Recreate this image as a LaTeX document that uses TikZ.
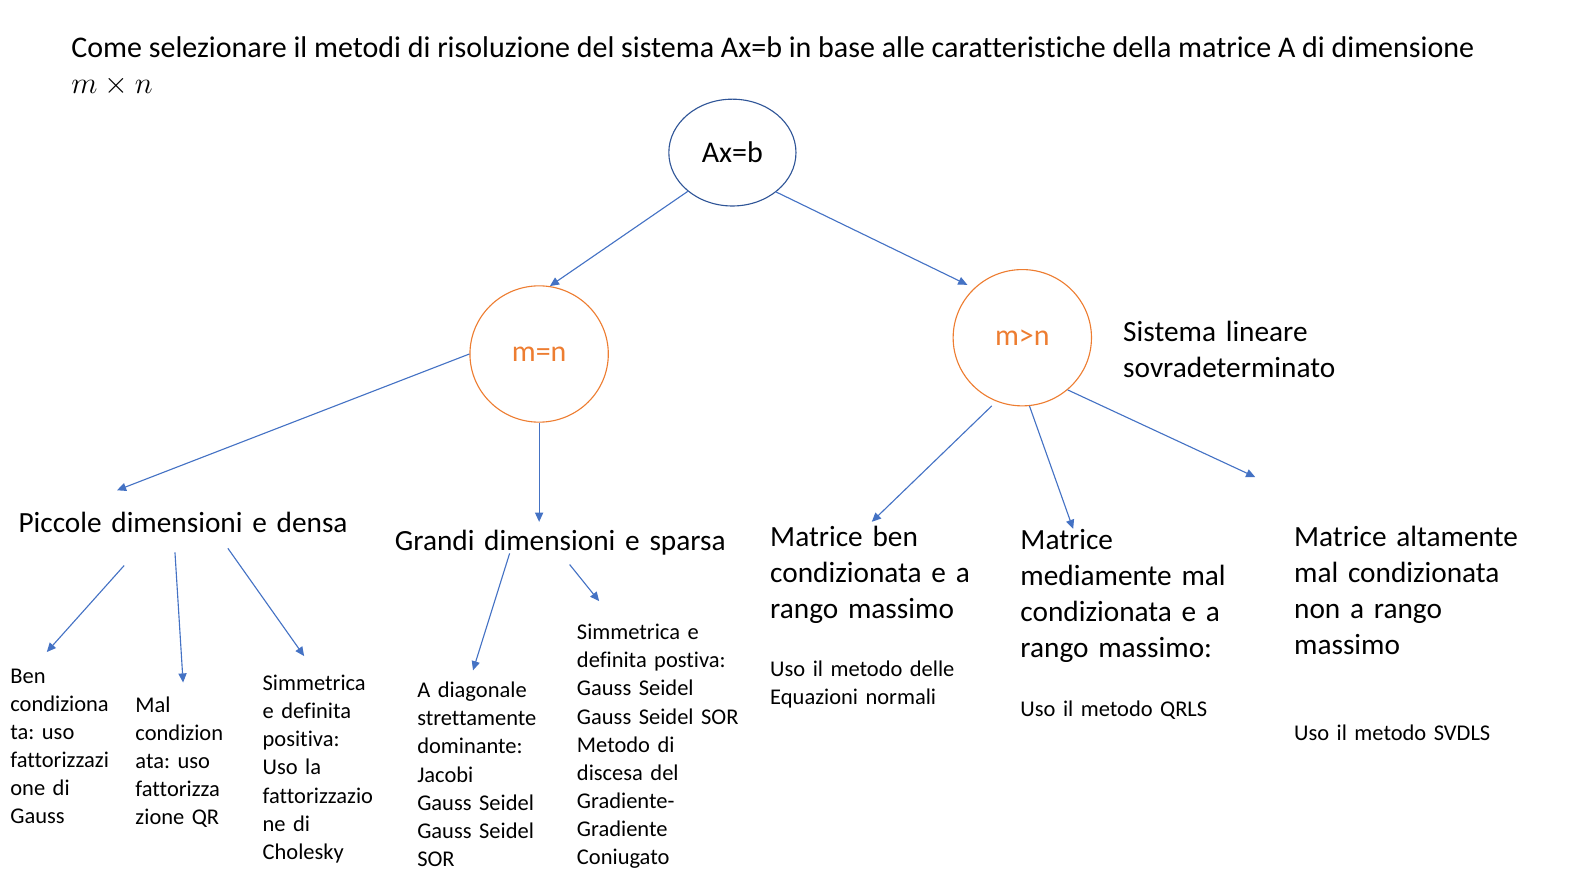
\documentclass[tikz,border=0pt]{standalone}
\usepackage{fix-cm}
\usepackage{fontspec}
\setmainfont[Ligatures={NoCommon}]{Carlito}
\frenchspacing
\usetikzlibrary{arrows.meta,shapes.geometric}
\definecolor{arrblue}{HTML}{4472C4}
\definecolor{darkblue}{HTML}{2F5597}
\definecolor{orng}{HTML}{ED7D31}
\tikzset{
  conn/.style={draw=arrblue, line width=1.1pt, -{Triangle[width=8pt,length=9pt]}},
  bigtxt/.style={anchor=base west, inner sep=0pt, align=left, text width=330pt, font=\fontsize{28.8}{35.5}\selectfont},
  smalltxt/.style={anchor=base west, inner sep=0pt, align=left, text width=200pt, font=\fontsize{22.1}{27.6}\selectfont},
  oval/.style={draw, ellipse, line width=1.1pt},
}
\begin{document}
\begin{tikzpicture}[x=1pt, y=-1pt]
\useasboundingbox (0,0) rectangle (1568,875);
% title
\node[anchor=base west, inner sep=0pt, font=\fontsize{29.5}{35}\selectfont] (title) at (70,57) {Come selezionare il metodi di risoluzione del sistema Ax=b in base alle caratteristiche della matrice A di dimensione};
\node[anchor=base west, inner sep=0pt, font=\fontsize{30}{36}\selectfont] (dim) at (70,92) {$m\times n$};
% ellipses
\node[oval, draw=darkblue, minimum width=125pt, minimum height=105pt, font=\fontsize{29.5}{35}\selectfont] (axb) at (720,150) {Ax=b};
\node[oval, draw=orng, text=orng, minimum width=136pt, minimum height=134pt, font=\fontsize{29.4}{35}\selectfont] (mn) at (530,348) {m=n};
\node[oval, draw=orng, text=orng, minimum width=136pt, minimum height=134pt, font=\fontsize{29.4}{35}\selectfont] (mgn) at (1005,332) {m>n};
\node[bigtxt] (sist) at (1104,336) {Sistema lineare\\sovradeterminato};
% level 2 text
\node[bigtxt] (pic) at (18,523) {Piccole dimensioni e densa};
\node[bigtxt] (gra) at (388,541) {Grandi dimensioni e sparsa};
\node[bigtxt] (ben) at (757,537) {Matrice ben\\condizionata e a\\rango massimo};
\node[smalltxt] (benuso) at (757,665) {Uso il metodo delle\\Equazioni normali};
\node[bigtxt] (med) at (1003,540) {Matrice\\mediamente mal\\condizionata e a\\rango massimo:};
\node[smalltxt] (meduso) at (1003,704) {Uso il metodo QRLS};
\node[bigtxt] (alt) at (1272,537) {Matrice altamente\\mal condizionata\\non a rango\\massimo};
\node[smalltxt] (altuso) at (1272,728) {Uso il metodo SVDLS};
% level 3 text
\node[smalltxt] (bencond) at (10,672) {Ben\\condiziona\\ta: uso\\fattorizzazi\\one di\\Gauss};
\node[smalltxt] (malcond) at (133,700) {Mal\\condizion\\ata: uso\\fattorizza\\zione QR};
\node[smalltxt] (simdp) at (258,679) {Simmetrica\\e definita\\positiva:\\Uso la\\fattorizzazio\\ne di\\Cholesky};
\node[smalltxt] (adiag) at (410,686) {A diagonale\\strettamente\\dominante:\\Jacobi\\Gauss Seidel\\Gauss Seidel\\SOR};
\node[smalltxt] (simgs) at (567,629) {Simmetrica e\\definita postiva:\\Gauss Seidel\\Gauss Seidel SOR\\Metodo di\\discesa del\\Gradiente-\\Gradiente\\Coniugato};
% connector ends
\coordinate (picin) at (115,482);
\coordinate (grain) at (530,513);
\coordinate (benin) at (857,513);
\coordinate (medin) at (1055,520);
\coordinate (altin) at (1234,469);
\coordinate (mgnin) at (951,280);
\coordinate (picout1) at (122,556);
\coordinate (picout2) at (172,543);
\coordinate (picout3) at (224,539);
\coordinate (bencondin) at (46,641);
\coordinate (malcondin) at (180,671);
\coordinate (simdpin) at (299,645);
\coordinate (graout1) at (501,544);
\coordinate (graout2) at (560,555);
\coordinate (adiagin) at (465,659);
\coordinate (simgsin) at (589,591);
\coordinate (mgnout1) at (975,399);
\coordinate (mgnout2) at (1012,399);
% connectors
\draw[conn] (axb.221) -- (mn.81);
\draw[conn] (axb.-42) -- (mgnin);
\draw[conn] (mn.west) -- (picin);
\draw[conn] (mn.south) -- (grain);
\draw[conn] (mgnout1) -- (benin);
\draw[conn] (mgnout2) -- (medin);
\draw[conn] (mgn.-49) -- (altin);
\draw[conn] (picout1) -- (bencondin);
\draw[conn] (picout2) -- (malcondin);
\draw[conn] (picout3) -- (simdpin);
\draw[conn] (graout1) -- (adiagin);
\draw[conn] (graout2) -- (simgsin);
\end{tikzpicture}
\end{document}
